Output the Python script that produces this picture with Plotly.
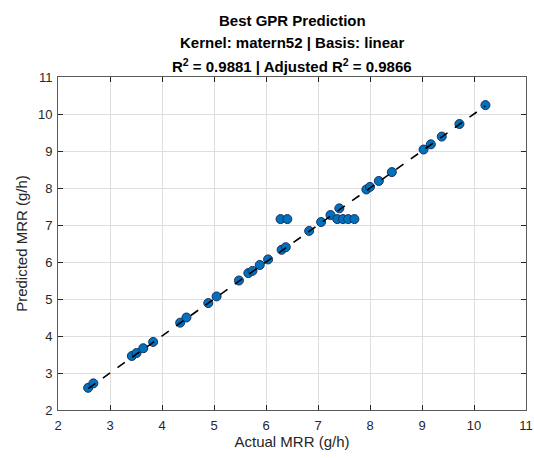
import plotly.graph_objects as go

# Data
actual = [2.58, 2.68, 3.42, 3.51, 3.64, 3.83, 4.35, 4.47, 4.89, 5.05,
          5.48, 5.66, 5.74, 5.88, 6.04, 6.30, 6.38, 6.83, 7.06, 7.24,
          7.41, 7.93, 8.00, 8.17, 8.42, 9.03, 9.17, 9.38, 9.72, 10.22,
          6.28, 6.41, 7.37, 7.48, 7.58, 7.70]
predicted = [2.60, 2.72, 3.46, 3.54, 3.67, 3.84, 4.36, 4.50, 4.89, 5.07,
             5.50, 5.70, 5.76, 5.92, 6.07, 6.33, 6.40, 6.84, 7.08, 7.27,
             7.45, 7.96, 8.03, 8.19, 8.43, 9.04, 9.18, 9.39, 9.73, 10.24,
             7.16, 7.16, 7.16, 7.16, 7.16, 7.16]

title_lines = ["Best GPR Prediction",
               "Kernel: matern52 | Basis: linear",
               "R<sup>2</sup> = 0.9881 | Adjusted R<sup>2</sup> = 0.9866"]
x_label = "Actual MRR (g/h)"
y_label = "Predicted MRR (g/h)"
axis_ticks = [2, 3, 4, 5, 6, 7, 8, 9, 10, 11]

FONT = "Liberation Sans, Arial, Helvetica, sans-serif"
TXT = "#262626"

fig = go.Figure()
fig.add_trace(go.Scatter(
    x=actual, y=predicted, mode="markers",
    marker=dict(size=9, color="#0072BD", line=dict(color="#1b2f5e", width=1)),
    showlegend=False, hoverinfo="x+y"))
lo, hi = min(actual), max(actual)
fig.add_trace(go.Scatter(
    x=[lo, hi], y=[lo, hi], mode="lines",
    line=dict(color="black", width=1.6, dash="dash"),
    showlegend=False))

axis_common = dict(
    range=[axis_ticks[0], axis_ticks[-1]], tickmode="array", tickvals=axis_ticks,
    ticks="inside", ticklen=5, tickcolor=TXT, tickwidth=1,
    showline=True, linecolor="#5a5a5a", linewidth=1, mirror="ticks",
    showgrid=True, gridcolor="#dedede", gridwidth=1, zeroline=False,
    tickfont=dict(family=FONT, size=13, color=TXT),
    automargin=False,
)
fig.update_xaxes(**axis_common, ticklabelstandoff=3,
                 title=dict(text=x_label, font=dict(family=FONT, size=15, color=TXT), standoff=4))
fig.update_yaxes(**axis_common, ticklabelstandoff=2,
                 title=dict(text=y_label, font=dict(family=FONT, size=15, color=TXT), standoff=6))

shifts = [57, 35, 12]
for txt, s in zip(title_lines, shifts):
    fig.add_annotation(text="<b>" + txt + "</b>", xref="paper", yref="paper",
                       x=0.5, y=1, xanchor="center", yanchor="middle", yshift=s,
                       showarrow=False, font=dict(family=FONT, size=15, color="black"))

fig.update_layout(
    width=534, height=458,
    margin=dict(l=58, r=8, t=77, b=48),
    paper_bgcolor="white", plot_bgcolor="white",
    font=dict(family=FONT, color=TXT),
)
fig.write_html("out.html")
